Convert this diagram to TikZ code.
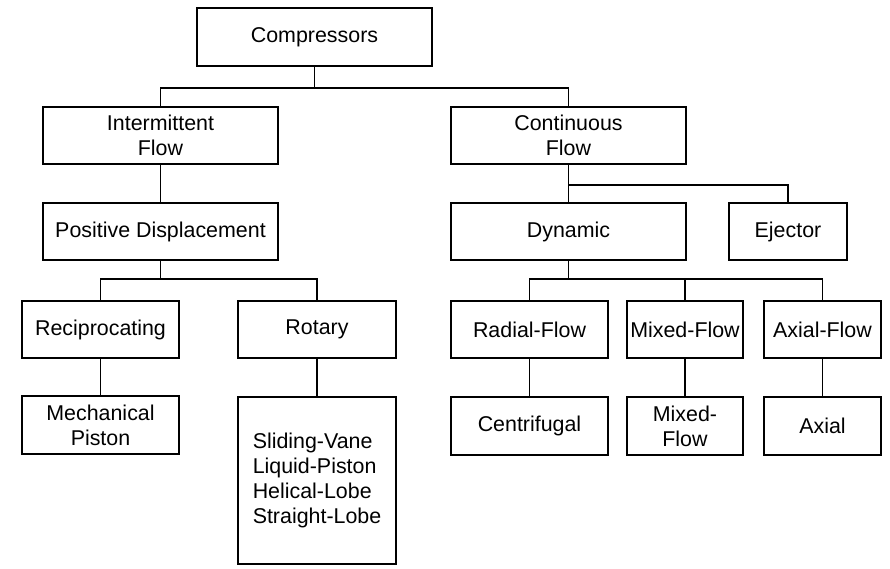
\documentclass[tikz,border=0pt]{standalone}
\usepackage{fontspec}
\setmainfont{Liberation Sans}
\begin{document}
\begin{tikzpicture}[x=1pt,y=-1pt,
  box/.style={draw,line width=1.3pt,rectangle,inner sep=0pt,align=center,
    font=\fontsize{21.4}{25}\selectfont},
  ln/.style={line width=1.3pt}]
\useasboundingbox[fill=white] (0,0) rectangle (890,568);
\node[box,minimum width=235pt,minimum height=58pt] (comp) at (314.5,37) {Compressors};
\node[box,minimum width=235pt,minimum height=57pt] (inter) at (160.5,135.5) {Intermittent\\Flow};
\node[box,minimum width=235pt,minimum height=57pt] (pd) at (160.5,231.5) {Positive Displacement};
\node[box,minimum width=235pt,minimum height=57pt] (cont) at (568.5,135.5) {Continuous\\Flow};
\node[box,minimum width=235pt,minimum height=57pt] (dyn) at (568.5,231.5) {Dynamic};
\node[box,minimum width=118pt,minimum height=57pt] (ej) at (788,231.5) {Ejector};
\node[box,minimum width=157pt,minimum height=57pt] (recip) at (100.5,329.5) {Reciprocating};
\node[box,minimum width=158pt,minimum height=57pt] (rot) at (317,329.5) {Rotary};
\node[box,minimum width=157pt,minimum height=58pt] (mech) at (100.5,425) {Mechanical\\Piston};
\node[box,minimum width=158pt,minimum height=167pt,align=left] (list) at (317,480.5) {Sliding-Vane\\Liquid-Piston\\Helical-Lobe\\Straight-Lobe};
\node[box,minimum width=157pt,minimum height=57pt] (rad) at (529.5,329.5) {Radial-Flow};
\node[box,minimum width=116pt,minimum height=57pt] (mix) at (685,329.5) {Mixed-Flow};
\node[box,minimum width=117pt,minimum height=57pt] (axf) at (822.5,329.5) {Axial-Flow};
\node[box,minimum width=157pt,minimum height=58pt] (cent) at (529.5,426) {Centrifugal};
\node[box,minimum width=116pt,minimum height=58pt] (mix2) at (685,426) {Mixed-\\Flow};
\node[box,minimum width=117pt,minimum height=58pt] (axial) at (822.5,426) {Axial};
\coordinate (b1) at (314.5,88);
\coordinate (b2) at (160.5,279);
\coordinate (b3) at (568.5,185);
\coordinate (b4) at (568.5,279);
\draw[ln] (comp.south) -- (b1);
\draw[ln] (inter.north) |- (b1) -| (cont.north);
\draw[ln] (inter.south) -- (pd.north);
\draw[ln] (pd.south) -- (b2);
\draw[ln] (recip.north) |- (b2) -| (rot.north);
\draw[ln] (cont.south) -- (dyn.north);
\draw[ln] (b3) -| (ej.north);
\draw[ln] (dyn.south) -- (b4);
\draw[ln] (rad.north) |- (b4) -| (axf.north);
\draw[ln] (b4) -| (mix.north);
\draw[ln] (recip.south) -- (mech.north);
\draw[ln] (rot.south) -- (list.north);
\draw[ln] (rad.south) -- (cent.north);
\draw[ln] (mix.south) -- (mix2.north);
\draw[ln] (axf.south) -- (axial.north);
\end{tikzpicture}
\end{document}
